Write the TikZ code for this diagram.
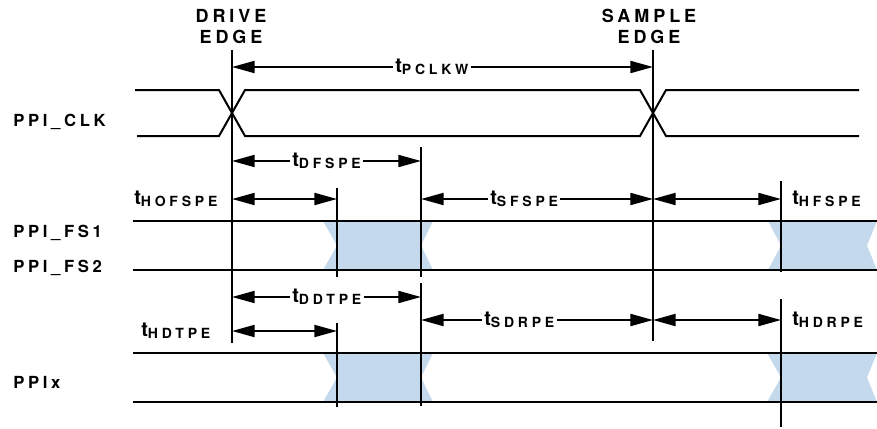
\documentclass[tikz,border=0pt]{standalone}
\usepackage{fontspec}
\setmainfont{TeX Gyre Heros}
\newfontfamily\edgefont[LetterSpace=22]{TeX Gyre Heros}
\newfontfamily\sigfont[LetterSpace=22]{TeX Gyre Heros}
\newfontfamily\subfont[LetterSpace=27]{TeX Gyre Heros}
\usetikzlibrary{arrows.meta}
\definecolor{invalid}{HTML}{C4D9EC}
\newcommand{\tsub}[1]{{\fontsize{15}{15}\bfseries t}\raisebox{-1.5pt}{\subfont\fontsize{10.5}{10.5}\bfseries #1}}
\tikzset{
  sig/.style={line width=1.5pt, line join=miter},
  vline/.style={line width=1pt},
  dim/.style={line width=1.5pt, {Triangle[length=17pt,width=9pt]}-{Triangle[length=17pt,width=9pt]}},
  dimr/.style={line width=1.5pt, -{Triangle[length=17pt,width=9pt]}},
  tlab/.style={anchor=west, inner xsep=1.5pt, inner ysep=0pt},
  siglab/.style={anchor=west, inner sep=0pt, font=\sigfont\fontsize{12.5}{13}\bfseries},
  edgelab/.style={align=center, inner sep=0pt, font=\edgefont\fontsize{13.5}{15.75}\bfseries},
}
\begin{document}
\begin{tikzpicture}[x=0.75pt,y=-0.75pt]
  \useasboundingbox (0,0) rectangle (877,428);
  % invalid windows
  \fill[invalid] (323,221) -- (433,221) -- (421,245.5) -- (433,270) -- (323,270) -- (337,245.5) -- cycle;
  \fill[invalid] (768,221) -- (877,221) -- (867,245.5) -- (877,270) -- (768,270) -- (781,245.5) -- cycle;
  \fill[invalid] (323,353) -- (433,353) -- (421,377.5) -- (433,402) -- (323,402) -- (337,377.5) -- cycle;
  \fill[invalid] (767,353) -- (877,353) -- (867,377.5) -- (877,402) -- (767,402) -- (781,377.5) -- cycle;

  % clock
  \draw[sig] (135,90) -- (219,90) -- (245,136) -- (640,136) -- (666,90) -- (859,90);
  \draw[sig] (137,136) -- (219,136) -- (245,90) -- (640,90) -- (666,136) -- (859,136);

  % frame sync and data
  \draw[sig] (133,221) -- (877,221);
  \draw[sig] (133,270) -- (877,270);
  \draw[sig] (133,353) -- (877,353);
  \draw[sig] (133,402) -- (877,402);

  % reference lines
  \coordinate (drvT) at (232,50);   \coordinate (drvB) at (232,343);
  \coordinate (smpT) at (653,50);   \coordinate (smpB) at (653,341);
  \coordinate (setT) at (421,147);  \coordinate (setB) at (421,277);
  \coordinate (setT2) at (421,283); \coordinate (setB2) at (421,406);
  \coordinate (holdT) at (337,188); \coordinate (holdB) at (337,277);
  \coordinate (holdT2) at (337,323); \coordinate (holdB2) at (337,407);
  \coordinate (hfsT) at (781,181);  \coordinate (hfsB) at (781,272);
  \coordinate (hdrT) at (781,299);  \coordinate (hdrB) at (781,427);
  \draw[vline] (drvT) -- (drvB);
  \draw[vline] (smpT) -- (smpB);
  \draw[vline] (setT) -- (setB);
  \draw[vline] (setT2) -- (setB2);
  \draw[vline] (holdT) -- (holdB);
  \draw[vline] (holdT2) -- (holdB2);
  \draw[vline] (hfsT) -- (hfsB);
  \draw[vline] (hdrT) -- (hdrB);

  % edge labels
  \node[edgelab] (drive) at (231,26.5) {DRIVE\\EDGE};
  \node[edgelab] (sample) at (649,26.5) {SAMPLE\\EDGE};

  % signal names
  \node[siglab] (clk) at (13,122) {PPI\_CLK};
  \node[siglab] (fs1) at (13,233) {PPI\_FS1};
  \node[siglab] (fs2) at (13,268) {PPI\_FS2};
  \node[siglab] (ppix) at (13,382) {PPIx};

  % timing parameters
  \node[tlab] (pclkw) at (393,67) {\tsub{PCLKW}};
  \draw[dimr] (pclkw.west) -- (pclkw.west -| drvT);
  \draw[dimr] (pclkw.east) -- (pclkw.east -| smpT);

  \node[tlab] (dfspe) at (290,161) {\tsub{DFSPE}};
  \draw[dimr] (dfspe.west) -- (dfspe.west -| drvT);
  \draw[dimr] (dfspe.east) -- (dfspe.east -| setT);

  \node[tlab] (hofspe) at (132,199) {\tsub{HOFSPE}};
  \draw[dim] (hofspe.west -| drvT) -- (hofspe.west -| holdT);

  \node[tlab] (sfspe) at (488,199) {\tsub{SFSPE}};
  \draw[dimr] (sfspe.west) -- (sfspe.west -| setT);
  \draw[dimr] (sfspe.east) -- (sfspe.east -| smpT);

  \node[tlab] (hfspe) at (790,199) {\tsub{HFSPE}};
  \draw[dim] (hfspe.west -| smpT) -- (hfspe.west -| hfsT);

  \node[tlab] (ddtpe) at (290,297) {\tsub{DDTPE}};
  \draw[dimr] (ddtpe.west) -- (ddtpe.west -| drvT);
  \draw[dimr] (ddtpe.east) -- (ddtpe.east -| setT2);

  \node[tlab] (hdtpe) at (139,331) {\tsub{HDTPE}};
  \draw[dim] (hdtpe.west -| drvT) -- (hdtpe.west -| holdT2);

  \node[tlab] (sdrpe) at (482,320) {\tsub{SDRPE}};
  \draw[dimr] (sdrpe.west) -- (sdrpe.west -| setT2);
  \draw[dimr] (sdrpe.east) -- (sdrpe.east -| smpT);

  \node[tlab] (hdrpe) at (790,320) {\tsub{HDRPE}};
  \draw[dim] (hdrpe.west -| smpT) -- (hdrpe.west -| hdrT);
\end{tikzpicture}
\end{document}
